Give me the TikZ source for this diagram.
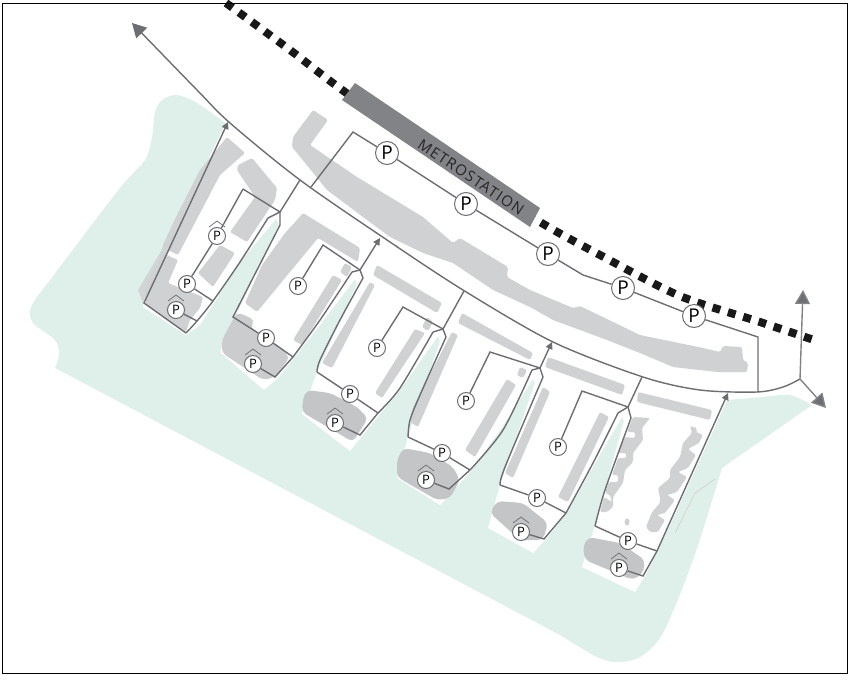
\documentclass[tikz,border=0pt]{standalone}
\usepackage{fontspec}
\setmainfont{Open Sans}
\usepackage{xcolor}
\usetikzlibrary{arrows.meta}
\definecolor{parkgreen}{HTML}{DFF0EA}
\definecolor{blockgrey}{HTML}{D0D1D3}
\definecolor{lotgrey}{HTML}{C4C5C7}
\definecolor{roadgrey}{HTML}{6D6E71}
\definecolor{stationgrey}{HTML}{828386}
\tikzset{
  road/.style={draw=roadgrey,line width=1.4pt},
  roadtip/.style={road,-{Triangle[length=7pt,width=7pt,fill=roadgrey]}},
  exittip/.style={draw=stationgrey,line width=1.4pt,-{Triangle[length=14pt,width=15pt,fill=roadgrey]}},
  bigp/.style={circle,draw=roadgrey,fill=white,line width=1pt,minimum size=23pt,inner sep=0pt,font=\fontsize{19}{19}\selectfont},
  smallp/.style={circle,draw=roadgrey,fill=white,line width=1pt,minimum size=17pt,inner sep=0pt,font=\fontsize{13}{13}\selectfont},
  roofp/.style={draw=roadgrey,line width=.7pt},
  block/.style={fill=blockgrey,rounded corners=1.5pt},
  lot/.style={fill=lotgrey,rounded corners=5pt},
}
\begin{document}
\begin{tikzpicture}[x=1pt,y=-1pt]
\useasboundingbox (0,0) rectangle (850,680);
% park and the white plots on it
\fill[parkgreen] plot[smooth] coordinates {(228,125)(197,103)(177,95)(162,100)(155,112)(152,137)(145,160)(120,188)(50,280)(31,307)(33,323)(55,340)(59,355)(55,368)}
  -- plot[smooth] coordinates {(560,635)(597,657)(617,662)(640,657)(663,633)(693,560)(722,468)}
  -- plot[smooth] coordinates {(812,405)(790,395)(763,397)(727,400)} -- cycle;
\fill[white] (228,118)--(147,290)--(143,307)--(186,335)--(200,325)--(240,262)--(276,219)--(279,224)--(235,317)--(220,352)--(264,390)--(278,378)--(320,325)--(355,279)--(357,284)--(317,372)--(302,414)--(350,451)--(362,436)--(400,390)--(438,336)--(440,341)--(408,437)--(397,478)--(440,505)--(470,472)--(500,430)--(533,379)--(535,383)--(500,485)--(488,528)--(533,553)--(547,538)--(567,513)--(595,463)--(622,417)--(624,421)--(595,525)--(582,567)--(635,592)--(645,576)--(670,525)--(729,396)--(500,250)--cycle;
\draw[draw=blockgrey!80!brown,line width=.4pt] (675,533)--(695,493)--(715,479);
% long block along the road
\fill[block] (313,110)--(328,120)--(310,145)--(357,177)--(423,217)--(453,243)--(460,238)--(508,267)--(507,277)--(530,290)--(573,308)--(580,306)--(640,335)--(703,348)--(720,352)--(723,346)--(742,347)--(743,360)--(748,363)--(747,372)--(717,372)--(673,367)--(640,353)--(607,340)--(553,320)--(530,307)--(493,290)--(453,263)--(423,253)--(390,237)--(367,220)--(327,190)--(297,153)--(292,147)--(293,137)--cycle;
% plot 1
\fill[lotgrey!60!parkgreen] (138,290)--(160,253)--(175,222)--(200,170)--(203,172)--(180,225)--(143,303)--cycle;
\fill[block] (227,137)--(245,153)--(220,175)--(178,255)--(162,247)--(177,215)--(200,170)--cycle;
\fill[block] (238,165)--(252,158)--(277,188)--(275,200)--(247,242)--(230,232)--(255,197)--(237,170)--cycle;
\fill[block] (198,273)--(220,245)--(235,253)--(213,287)--cycle;
\fill[block] (162,253)--(178,260)--(168,283)--(203,297)--(200,308)--(190,320)--(186,332)--(146,305)--(145,290)--cycle;
% plot 2
\fill[block] (303,213)--(360,248)--(358,262)--(318,238)--(257,312)--(245,303)--(262,265)--(285,233)--(297,220)--cycle;
\fill[block] (333,275)--(342,280)--(302,345)--(293,340)--cycle;
\fill[block] (345,263)--(352,267)--(347,277)--(340,272)--cycle;
\fill[lot,fill=blockgrey!60!lotgrey] (237,312)--(255,320)--(250,328)--(277,345)--(290,357)--(275,377)--(263,380)--(222,353)--(222,340)--cycle;
% plot 3
\fill[block] (377,265)--(442,303)--(437,313)--(373,275)--cycle;
\fill[block] (370,282)--(375,285)--(332,368)--(322,363)--cycle;
\fill[block] (415,329)--(425,333)--(382,398)--(375,393)--cycle;
\fill[block] (427,317)--(433,322)--(428,331)--(422,327)--cycle;
\fill[lot] (307,390)--(330,393)--(357,407)--(368,418)--(353,442)--(302,412)--(303,398)--cycle;
% plot 4
\fill[block] (462,313)--(533,353)--(530,360)--(458,323)--cycle;
\fill[block] (452,332)--(458,335)--(418,427)--(410,422)--(413,407)--cycle;
\fill[block] (507,379)--(516,385)--(475,457)--(465,450)--cycle;
\fill[block] (520,367)--(527,370)--(523,378)--(517,375)--cycle;
\fill[lot] (403,448)--(430,453)--(453,467)--(460,480)--(450,498)--(437,500)--(397,477)--(397,460)--cycle;
% plot 5
\fill[block] (548,357)--(625,385)--(622,395)--(545,367)--cycle;
\fill[block] (543,387)--(550,392)--(513,478)--(505,473)--cycle;
\fill[block] (600,412)--(609,417)--(568,502)--(558,497)--cycle;
\fill[lot] (497,501)--(523,503)--(548,523)--(543,540)--(520,540)--(490,513)--cycle;
% plot 6
\fill[block] (638,392)--(712,410)--(710,420)--(637,402)--cycle;
\fill[block] (633,417)--(650,418)--(642,428)--(643,440)--(633,453)--(633,462)--(625,470)--(623,483)--(613,497)--(613,507)--(607,512)--(600,512)--(604,497)--(612,502)--(610,495)--(605,493)--(609,482)--(618,482)--(618,475)--(612,475)--(618,458)--(626,458)--(626,453)--(618,453)--(625,437)--(635,438)--(635,432)--(627,432)--cycle;
\fill[block] (690,426)--(697,428)--(696,432)--(703,435)--(699,443)--(688,449)--(696,455)--(688,468)--(678,472)--(687,477)--(677,492)--(667,495)--(675,500)--(665,513)--(657,515)--(665,520)--(658,532)--(650,532)--(646,527)--(652,512)--(660,503)--(660,498)--(658,488)--(670,478)--(670,470)--(680,457)--(683,443)--(692,433)--cycle;
\fill[blockgrey] (627,522) circle[x radius=2.5,y radius=3.5];
\fill[lot] (588,537)--(620,543)--(645,560)--(643,573)--(633,580)--(585,560)--(583,547)--cycle;
% rail and station
\draw[black!90,line width=8pt,dash pattern=on 8pt off 8pt] plot[smooth] coordinates {(226,3)(290,50)(345,92)(450,165)(540,222)(600,255)(680,296)(760,322)(817,341)};
\fill[stationgrey] (355,83)--(540,208)--(530,227)--(342,100)--cycle;
\node[rotate=-33.7,text=black!85,font=\fontsize{15}{16}\selectfont\addfontfeature{LetterSpace=8}] (station) at (471,177) {METROSTATION};
% parking signs
\node[bigp] (pA) at (387,153) {P};
\node[bigp] (pB) at (466,204) {P};
\node[bigp] (pC) at (548,254) {P};
\node[bigp] (pD) at (623,288) {P};
\node[bigp] (pE) at (694,316) {P};
\node[smallp] (p1a) at (217,236) {P};
\node[smallp] (p1b) at (187,284) {P};
\node[smallp] (p1c) at (176,310) {P};
\node[smallp] (p2a) at (298,286) {P};
\node[smallp] (p2b) at (266,338) {P};
\node[smallp] (p2c) at (253,364) {P};
\node[smallp] (p3a) at (377,348) {P};
\node[smallp] (p3b) at (350,394) {P};
\node[smallp] (p3c) at (335,423) {P};
\node[smallp] (p4a) at (466,401) {P};
\node[smallp] (p4b) at (442,453) {P};
\node[smallp] (p4c) at (426,480) {P};
\node[smallp] (p5a) at (558,447) {P};
\node[smallp] (p5b) at (537,498) {P};
\node[smallp] (p5c) at (521,532) {P};
\node[smallp] (p6b) at (628,541) {P};
\node[smallp] (p6c) at (619,568) {P};
\foreach \n in {p1a,p1c,p2c,p3c,p4c,p5c,p6c}
  \draw[roofp] ([shift={(-8,-9)}]\n.center) -- ([shift={(0,-15)}]\n.center) -- ([shift={(8,-9)}]\n.center);
% corners of the lanes
\coordinate (jn) at (800,379);
\coordinate (jnN) at (803,290);
\coordinate (jnS) at (826,408);
\coordinate (west) at (132,23);
\coordinate (lotW) at (353,132);
\coordinate (lotS) at (311,187);
\coordinate (lotK) at (583,275);
\coordinate (lotE) at (758,337);
\coordinate (lotR) at (758,392);
\coordinate (rd1) at (300,180);
\coordinate (a1) at (243,189);
\coordinate (a1K) at (280,212);
\coordinate (a1T) at (268,218);
\coordinate (a1R) at (213,301);
\coordinate (a1Q) at (197,321);
\coordinate (a1B) at (186,333);
\coordinate (a1L) at (144,303);
\coordinate (a1N) at (228,122);
\coordinate (b1) at (323,245);
\coordinate (b1K) at (360,270);
\coordinate (b1T) at (352,272);
\coordinate (b1S) at (363,278);
\coordinate (b1L) at (233,317);
\coordinate (b1R) at (293,357);
\coordinate (b1B) at (275,377);
\coordinate (b1N) at (380,238);
\coordinate (c1) at (403,307);
\coordinate (c1K) at (443,329);
\coordinate (c1T) at (433,332);
\coordinate (c1S) at (446,337);
\coordinate (c1L) at (317,372);
\coordinate (c1R) at (378,413);
\coordinate (c1B) at (360,435);
\coordinate (rd3) at (464,291);
\coordinate (d1) at (490,352);
\coordinate (d1K) at (540,368);
\coordinate (d1T) at (532,370);
\coordinate (d1S) at (543,377);
\coordinate (d1L) at (408,437);
\coordinate (d1R) at (470,470);
\coordinate (d1B) at (449,489);
\coordinate (d1N) at (552,342);
\coordinate (e1) at (582,391);
\coordinate (e1K) at (628,407);
\coordinate (e1T) at (618,413);
\coordinate (e1S) at (631,418);
\coordinate (e1L) at (500,485);
\coordinate (e1R) at (566,513);
\coordinate (e1B) at (544,539);
\coordinate (rd5) at (642,377);
\coordinate (f1L) at (595,526);
\coordinate (f1R) at (657,551);
\coordinate (f1B) at (643,576);
\coordinate (f1N) at (728,393);
% main road with its exits
\draw[road,-{Triangle[length=14pt,width=15pt,fill=roadgrey]}] plot[smooth] coordinates {(jn)(783,387)(757,392)(700,390)(643,377)(553,342)(463,290)(387,240)(300,180)(230,123)(197,90)(west)};
\draw[exittip] (jn) -- (jnN);
\draw[exittip] (jn) -- (jnS);
% lanes
\draw[road] (lotS) -- (lotW) -- (pA) -- (pB) -- (pC) -- (lotK) -- (pD) -- (pE) -- (lotE) -- (lotR);
\draw[road] (a1) -- (p1a) -- (p1b) -- (a1R);
\draw[road] (a1) -- (a1K) -- (rd1);
\draw[road] (a1K) -- (a1T);
\draw[road] plot[smooth] coordinates {(a1T)(240,262)(a1R)(a1Q)(a1B)};
\draw[road] (p1c) -- (a1Q);
\draw[roadtip] (a1B) -- (a1L) -- (a1N);
\draw[road] (a1K) -- (280,225) -- (b1L) -- (p2b) -- (b1R);
\draw[road] (p2a) -- (b1) -- (b1K);
\draw[road] (p2c) -- (b1B) -- (b1R);
\draw[road] plot[smooth] coordinates {(b1R)(320,320)(b1T)};
\draw[road] (b1T) -- (b1K);
\draw[roadtip] (b1K) -- (b1N);
\draw[road] (b1K) -- (b1S);
\draw[road] plot[smooth] coordinates {(b1S)(340,320)(320,360)(c1L)};
\draw[road] (c1L) -- (p3b) -- (c1R);
\draw[road] (p3c) -- (c1B) -- (c1R);
\draw[road] plot[smooth] coordinates {(c1R)(400,388)(c1T)};
\draw[road] (c1T) -- (c1K);
\draw[road] (p3a) -- (c1) -- (c1K) -- (rd3);
\draw[road] (c1K) -- (c1S);
\draw[road] plot[smooth] coordinates {(c1S)(420,395)(410,420)(d1L)};
\draw[road] (d1L) -- (p4b) -- (d1R);
\draw[road] (p4c) -- (d1B) -- (d1R);
\draw[road] plot[smooth] coordinates {(d1R)(503,430)(d1T)};
\draw[road] (d1T) -- (d1K);
\draw[road] (p4a) -- (d1) -- (d1K);
\draw[roadtip] (d1K) -- (d1N);
\draw[road] (d1K) -- (d1S);
\draw[road] plot[smooth] coordinates {(d1S)(505,467)(e1L)};
\draw[road] (e1L) -- (p5b) -- (e1R);
\draw[road] (p5c) -- (e1B) -- (e1R);
\draw[road] plot[smooth] coordinates {(e1R)(593,463)(e1T)};
\draw[road] (e1T) -- (e1K);
\draw[road] (p5a) -- (e1) -- (e1K) -- (rd5);
\draw[road] (e1K) -- (e1S);
\draw[road] plot[smooth] coordinates {(e1S)(605,490)(f1L)};
\draw[road] (f1L) -- (p6b) -- (f1R);
\draw[road] (p6c) -- (f1B) -- (f1R);
\draw[roadtip] (f1R) -- (f1N);
% frame
\draw[line width=1pt] (2,3) rectangle (847,673);
\end{tikzpicture}
\end{document}
